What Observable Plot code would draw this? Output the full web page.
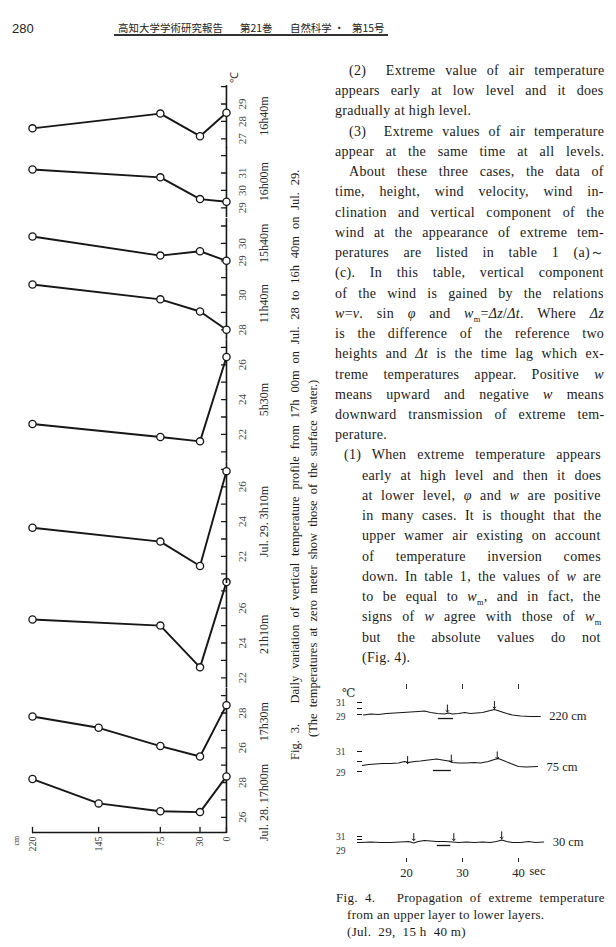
<!DOCTYPE html>
<html><head><meta charset="utf-8">
<script src="https://cdn.jsdelivr.net/npm/d3@7"></script>
<script src="https://cdn.jsdelivr.net/npm/@observablehq/plot@0.6"></script>
<style>
html,body{margin:0;padding:0;background:#fff;}
body{width:616px;height:947px;position:relative;overflow:hidden;font-family:"Liberation Serif","DejaVu Serif",serif;color:#1a1a1a;}
.ln{position:absolute;height:20.24px;line-height:20.24px;font-size:14px;letter-spacing:0.3px;white-space:nowrap;}
.cap{position:absolute;white-space:nowrap;}
sub{font-size:0.6em;line-height:0;}
</style></head><body>
<script>
// ---------- Fig. 3 data (temperatures in °C at heights 220,145,75,30,0 cm) ----------
const heights = [220, 145, 75, 30, 0];
const panelTimes = ["Jul. 28. 17h00m", "17h30m", "21h10m", "Jul. 29. 3h10m", "5h30m", "11h40m", "15h40m", "16h00m", "16h40m"];
const t1700 = [28.2, 26.8, 26.35, 26.3, 28.35];
const t1730 = [27.8, 27.15, 26.1, 25.5, 28.45];
const t2110 = [25.35, null, 25.0, 22.6, 27.5];
const t0310 = [23.65, null, 22.85, 21.45, 26.9];
const t0530 = [22.6, null, 21.85, 21.6, 26.45];
const t1140 = [30.6, null, 29.75, 29.05, 28.0];
const t1540 = [30.4, null, 29.3, 29.55, 29.0];
const t1600 = [31.2, null, 30.75, 29.5, 29.35];
const t1640 = [27.6, null, 28.45, 27.15, 28.5];
const profiles = [t1700, t1730, t2110, t0310, t0530, t1140, t1540, t1600, t1640];
const tickLabels = [[26, 28], [26, 28], [22, 24, 26], [22, 24, 26], [22, 24, 26], [28, 30], [29, 30], [29, 30, 31], [27, 28, 29]];

// ---------- Fig. 4 data (time s, temperature °C) ----------
const tr220_t = [12.3, 13.6, 15.0, 16.4, 17.9, 19.3, 20.7, 22.1, 23.2, 24.3, 25.5, 26.8, 27.5, 28.2, 29.3, 30.4, 31.4, 32.5, 33.6, 34.6, 35.7, 36.8, 37.9, 38.9, 40.4, 42.1, 43.9];
const tr220_T = [28.92, 29.08, 29.0, 29.17, 29.25, 29.33, 29.42, 29.5, 29.58, 29.33, 29.17, 29.08, 29.25, 29.08, 29.17, 29.33, 29.17, 29.25, 29.33, 29.58, 29.83, 29.5, 29.17, 28.92, 28.75, 28.67, 28.67];
const tr75_t = [12.1, 13.2, 14.5, 15.7, 17.1, 18.6, 19.6, 20.4, 21.4, 22.5, 23.9, 25.4, 26.4, 27.5, 28.2, 29.3, 30.7, 32.1, 33.2, 34.6, 35.7, 36.4, 37.3, 38.6, 40.0, 41.4, 43.4];
const tr75_T = [29.6, 29.7, 29.75, 29.8, 29.8, 29.85, 30.0, 29.9, 30.0, 30.05, 30.15, 30.25, 30.15, 30.05, 29.9, 29.85, 29.85, 29.9, 29.85, 30.0, 30.2, 30.3, 30.1, 29.8, 29.5, 29.45, 29.5];
const tr30_t = [11.8, 13.6, 15.4, 17.1, 18.9, 20.4, 21.3, 22.1, 23.2, 24.3, 25.4, 26.8, 28.2, 29.3, 30.7, 32.1, 33.6, 35.0, 36.1, 37.0, 37.9, 38.9, 40.4, 41.8, 43.0, 44.5];
const tr30_T = [29.0, 29.17, 29.0, 29.0, 29.17, 29.33, 28.83, 29.33, 29.67, 29.5, 29.33, 29.33, 29.17, 29.0, 29.17, 29.0, 29.17, 29.0, 29.33, 29.83, 29.33, 29.0, 29.0, 29.33, 29.0, 29.17];
const arr220_t = [27.3, 35.7], arr220_T = [29.42, 30.0];
const arr75_t = [20.2, 28.0, 36.2], arr75_T = [29.8, 29.95, 30.27];
const arr30_t = [21.3, 28.45, 37.0], arr30_T = [29.67, 29.67, 30.23];
const bar220 = {t1: 25.7, t2: 28.4, T: 28.33};
const bar75 = {t1: 24.8, t2: 28.0, T: 29.1};
const bar30 = {t1: 25.5, t2: 27.9, T: 28.0};
const timeTicks = [20, 30, 40];
const scaleTicks = [29, 30, 31];

// ---------- helpers ----------
const ink = "#161616";
const tickShape = {draw(ctx, l) { ctx.moveTo(0, 0); ctx.lineTo(0, -l); }};
function el(html, css, parent) {
  const d = document.createElement("div");
  d.innerHTML = html;
  if (css) d.style.cssText = css;
  (parent || document.body).appendChild(d);
  return d;
}
// spread the words of one line so that it fills exactly `target` px
function justify(d, target) {
  const s = document.createElement("span");
  while (d.firstChild) s.appendChild(d.firstChild);
  d.appendChild(s);
  const nat = s.offsetWidth;
  const n = (s.textContent.match(/[ \u00a0]/g) || []).length;
  if (n) s.style.wordSpacing = ((target - nat) / n) + "px";
}

// ---------- header ----------
el("280", "position:absolute;left:12px;top:21px;font:13px 'Liberation Sans',Arial,sans-serif;line-height:16px;color:#222;");
const hdr = "font:10.4px 'Noto Sans CJK JP',sans-serif;line-height:14px;color:#222;position:absolute;top:21px;";
el("高知大学学術研究報告", hdr + "left:118px;letter-spacing:0.1px;");
el("第21巻", hdr + "left:240px;");
el("自然科学", hdr + "left:290px;");
el("・", hdr + "left:334px;");
el("第15号", hdr + "left:352px;");
el("", "position:absolute;left:114px;top:34px;width:274px;height:1.6px;background:#333;");

// ---------- Fig. 3 (drawn upright, then rotated -90deg) ----------
const K = 17.4;           // px per °C on every panel
const ML = 40, MT = 12, PH = 194, MB = 80;
const domains = [[25.126, 29.5], [25.5, 29.5], [21.5, 27.5], [20.5, 27.5], [20.5, 27.5], [27.5, 31.5], [28.5, 31.5], [28.5, 32.5], [26.5, 30.115]];
const fig3 = document.createElement("div");
fig3.style.cssText = `position:absolute;left:0;top:0;width:${ML + 800}px;height:330px;transform-origin:0 0;transform:translate(20px,${833 + ML}px) rotate(-90deg);`;
document.body.appendChild(fig3);
let u = 0;
profiles.forEach((temps, i) => {
  const [lo, hi] = domains[i];
  const w = (hi - lo) * K;
  const ml = i === 0 ? ML : 0;
  const data = heights.map((h, j) => ({h, T: temps[j]})).filter(d => d.T != null);
  const ticks = d3.range(Math.ceil(lo), Math.floor(hi) + 1);
  const marks = [
    Plot.ruleY([0], {stroke: ink, strokeWidth: 1.6}),
    Plot.vector(ticks, {x: d => d, frameAnchor: "bottom", length: 5, anchor: "start", shape: tickShape, stroke: ink, strokeWidth: 1.3}),
    Plot.axisX({ticks: tickLabels[i], tickSize: 0, tickPadding: 12, fontSize: 11, color: "#444", tickFormat: d => d, label: null}),
    Plot.text([panelTimes[i]], {frameAnchor: "bottom", dy: 42, dx: i === 0 ? -8 : 0, fontSize: 12, fill: "#2a2a2a"}),
    Plot.line(data, {x: "T", y: "h", stroke: ink, strokeWidth: 1.9}),
    Plot.dot(data, {x: "T", y: "h", r: 3.6, fill: "white", stroke: ink, strokeWidth: 1.3})
  ];
  if (i === 0) {
    marks.push(
      Plot.ruleX([lo], {stroke: ink, strokeWidth: 1.6}),
      Plot.vector(heights, {y: d => d, frameAnchor: "left", rotate: 90, length: 5, anchor: "start", shape: tickShape, stroke: ink, strokeWidth: 1.3}),
      Plot.axisY({ticks: heights, tickSize: 0, tickPadding: 4, fontSize: 10, color: "#333", tickFormat: d => d, label: null}),
      Plot.text(["cm"], {frameAnchor: "top-left", dx: -13, dy: -19, fontSize: 8, fill: "#333"})
    );
  }
  if (i === profiles.length - 1) {
    marks.push(Plot.text(["℃"], {frameAnchor: "bottom-right", dx: 13, dy: 12, fontSize: 11, fill: "#333"}));
  }
  const svg = Plot.plot({
    width: ml + w, height: MT + PH + MB,
    marginLeft: ml, marginRight: 0, marginTop: MT, marginBottom: MB,
    x: {domain: [lo, hi], axis: null, label: null},
    y: {domain: [0, 220], axis: null, label: null},
    style: {overflow: "visible", background: "transparent", fontFamily: "'Liberation Serif', serif", color: ink},
    marks
  });
  svg.style.position = "absolute";
  svg.style.left = (ML + u - ml) + "px";
  svg.style.top = "0px";
  svg.style.maxWidth = "none";
  fig3.appendChild(svg);
  u += w;
});
const c1 = el("Fig. 3.&nbsp;&nbsp; Daily variation of vertical temperature profile from 17h 00m on Jul. 28 to 16h 40m on Jul. 29.",
  `left:${ML + 73}px;top:268px;font-size:12.5px;line-height:14px;`, fig3);
c1.className = "cap";
justify(c1, 590);
const c2 = el("(The temperatures at zero meter show those of the surface water.)",
  `left:${ML + 96}px;top:286px;font-size:12.5px;line-height:14px;`, fig3);
c2.className = "cap";
justify(c2, 357);

// ---------- body text ----------
const W = "<i>w</i>", P = "<i>φ</i>", Wm = "<i>w</i><sub>m</sub>", D = "<i>Δ</i>";
// [text, left x, right x, justified]
const bodyLines = [
  ["(2)&nbsp; Extreme value of air temperature", 349, 604, 1],
  ["appears early at low level and it does", 335, 604, 1],
  ["gradually at high level.", 335, 0, 0],
  ["(3)&nbsp; Extreme values of air temperature", 349, 604, 1],
  ["appear at the same time at all levels.", 335, 604, 1],
  ["About these three cases, the data of", 349, 604, 1],
  ["time, height, wind velocity, wind in-", 335, 604, 1],
  ["clination and vertical component of the", 335, 604, 1],
  ["wind at the appearance of extreme tem-", 335, 604, 1],
  ["peratures are listed in table 1 (a)～", 335, 604, 1],
  ["(c). In this table, vertical component", 335, 604, 1],
  ["of the wind is gained by the relations", 335, 604, 1],
  [`${W}=<i>v</i>. sin ${P} and ${Wm}=${D}<i>z</i>/${D}<i>t</i>. Where ${D}<i>z</i>`, 335, 604, 1],
  ["is the difference of the reference two", 335, 604, 1],
  [`heights and ${D}<i>t</i> is the time lag which ex-`, 335, 604, 1],
  [`treme temperatures appear. Positive ${W}`, 335, 604, 1],
  [`means upward and negative ${W} means`, 335, 604, 1],
  ["downward transmission of extreme tem-", 335, 604, 1],
  ["perature.", 335, 0, 0],
  ["(1) When extreme temperature appears", 344, 601, 1],
  ["early at high level and then it does", 362, 601, 1],
  [`at lower level, ${P} and ${W} are positive`, 362, 601, 1],
  ["in many cases. It is thought that the", 362, 601, 1],
  ["upper wamer air existing on account", 362, 601, 1],
  ["of temperature inversion comes", 362, 601, 1],
  [`down. In table 1, the values of ${W} are`, 362, 601, 1],
  [`to be equal to ${Wm}, and in fact, the`, 362, 601, 1],
  [`signs of ${W} agree with those of ${Wm}`, 362, 601, 1],
  ["but the absolute values do not", 362, 601, 1],
  ["(Fig. 4).", 362, 0, 0]
];
bodyLines.forEach(([t, x0, x1, just], k) => {
  const d = el(t, `left:${x0}px;top:${60.9 + k * 20.24}px;`);
  d.className = "ln";
  if (just) justify(d, x1 - x0);
});

// ---------- Fig. 4 ----------
el("℃", "position:absolute;left:342px;top:686px;font-size:12px;line-height:14px;color:#333;");
function fig4Panel(o) {
  const data = o.t.map((x, i) => ({t: x, T: o.T[i]}));
  const arrows = o.at.map((x, i) => ({t: x, T: o.aT[i]}));
  const marks = [
    Plot.line(data, {x: "t", y: "T", stroke: ink, strokeWidth: 1.1}),
    Plot.vector(arrows, {x: "t", y: "T", rotate: 180, length: 7, anchor: "end", stroke: ink, strokeWidth: 1}),
    Plot.ruleY([o.bar], {y: "T", x1: "t1", x2: "t2", stroke: ink, strokeWidth: 1.3}),
    Plot.text([data[data.length - 1]], {x: "t", y: "T", text: () => o.label, dx: 9, textAnchor: "start", fontSize: 12.5, fill: "#222"}),
    Plot.axisY({ticks: scaleTicks, tickSize: 5, tickFormat: () => "", color: ink, label: null}),
    Plot.axisY({ticks: [31], tickSize: 0, tickPadding: 17, fontSize: 9.5, color: "#333", dy: o.dy31 || 0, tickFormat: d => d, label: null}),
    Plot.axisY({ticks: [29], tickSize: 0, tickPadding: 17, fontSize: 9.5, color: "#333", dy: o.dy29 || 0, tickFormat: d => d, label: null})
  ];
  if (o.top) marks.push(Plot.axisX({anchor: "top", ticks: timeTicks, tickSize: 5, tickFormat: () => "", color: "#333", label: null}));
  if (o.bottom) marks.push(
    Plot.axisX({anchor: "bottom", ticks: timeTicks, tickSize: 4, tickPadding: 6, fontSize: 12.5, color: "#222", tickFormat: d => d, label: null}),
    Plot.text(["sec"], {frameAnchor: "bottom-right", dx: 11, dy: 16, textAnchor: "start", fontSize: 12.5, fill: "#222"})
  );
  const svg = Plot.plot({
    width: 290, height: o.height,
    marginLeft: 42, marginRight: 92, marginTop: o.mt, marginBottom: o.mb,
    x: {domain: [20, 40], range: [86, 198], axis: null, label: null},
    y: {domain: [29, 31], range: o.yr, axis: null, label: null},
    style: {overflow: "visible", background: "transparent", fontFamily: "'Liberation Serif', serif", color: ink},
    marks
  });
  svg.style.position = "absolute";
  svg.style.left = "320px";
  svg.style.top = o.y + "px";
  svg.style.maxWidth = "none";
  document.body.appendChild(svg);
}
fig4Panel({t: tr220_t, T: tr220_T, at: arr220_t, aT: arr220_T, bar: bar220, label: "220 cm", y: 676, height: 50, mt: 12, mb: 10, yr: [38, 26], top: true, dy31: 0, dy29: 2});
fig4Panel({t: tr75_t, T: tr75_T, at: arr75_t, aT: arr75_T, bar: bar75, label: "75 cm", y: 740, height: 45, mt: 8, mb: 10, yr: [31, 11], dy29: 1});
fig4Panel({t: tr30_t, T: tr30_T, at: arr30_t, aT: arr30_T, bar: bar30, label: "30 cm", y: 825, height: 60, mt: 8, mb: 27, yr: [17, 11], bottom: true, dy31: 0, dy29: 8});

const cap4 = [
  ["Fig. 4.&nbsp;&nbsp; Propagation of extreme temperature", 336, 605],
  ["from an upper layer to lower layers.", 347, 0],
  ["(Jul.&nbsp; 29,&nbsp; 15 h&nbsp; 40 m)", 347, 0]
];
cap4.forEach(([t, x0, x1], k) => {
  const d = el(t, `left:${x0}px;top:${889 + k * 17}px;font-size:13px;line-height:17px;letter-spacing:0.3px;`);
  d.className = "cap";
  if (x1) justify(d, x1 - x0);
});
</script>
</body></html>
